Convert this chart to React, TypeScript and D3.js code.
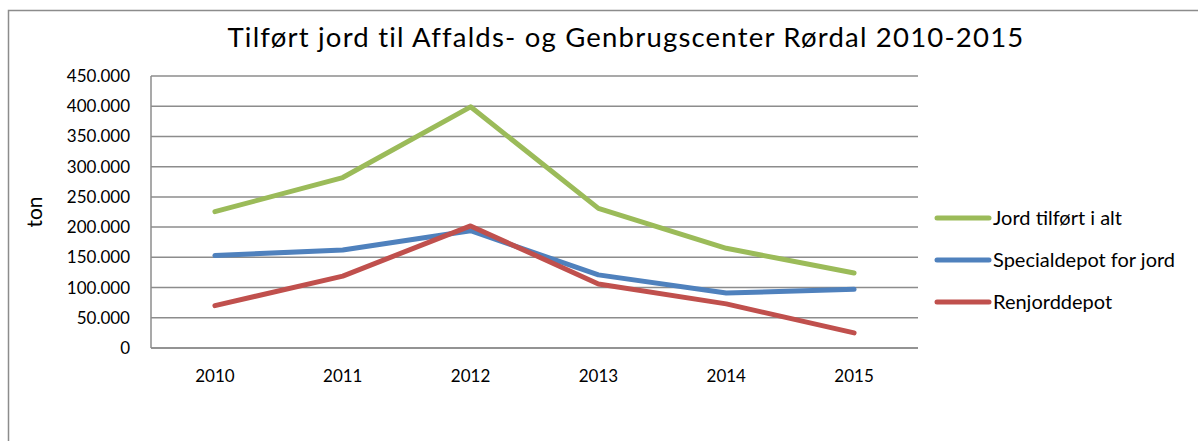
import React, { useEffect, useRef } from 'react';
import * as d3 from 'd3';

// Data
const years = ['2010', '2011', '2012', '2013', '2014', '2015'];
const jordTilfoert = [225500, 282000, 399000, 231000, 165000, 124000];
const specialdepot = [153000, 162000, 194000, 121000, 91000, 97000];
const renjorddepot = [70000, 119000, 202000, 106000, 73000, 25000];
const yTicks = [0, 50000, 100000, 150000, 200000, 250000, 300000, 350000, 400000, 450000];
const seriesNames = ['Jord tilført i alt', 'Specialdepot for jord', 'Renjorddepot'];
const seriesColors = ['#9bbb59', '#4f81bd', '#c0504d'];

const FONT = 'Lato, "Open Sans", sans-serif';

function App() {
  const svgRef = useRef<SVGSVGElement>(null);

  useEffect(() => {
    const width = 1198;
    const height = 441;
    const margin = { top: 76, left: 151 };
    const innerWidth = 918 - margin.left;
    const innerHeight = 348 - margin.top;

    const svg = d3.select(svgRef.current)
      .attr('width', width)
      .attr('height', height);

    svg.selectAll('*').remove();

    // Outer chart frame
    svg.append('rect')
      .attr('x', 8.5)
      .attr('y', 10.5)
      .attr('width', 1250)
      .attr('height', 500)
      .attr('fill', 'white')
      .attr('stroke', '#8c8c8c')
      .attr('stroke-width', 1.5);

    // Title
    svg.append('text')
      .attr('x', 626)
      .attr('y', 47)
      .attr('text-anchor', 'middle')
      .attr('font-family', FONT)
      .attr('font-size', '27.5px')
      .attr('letter-spacing', '1.2px')
      .attr('fill', '#000')
      .text('Tilført jord til Affalds- og Genbrugscenter Rørdal 2010-2015');

    const g = svg.append('g')
      .attr('transform', `translate(${margin.left},${margin.top})`);

    const xScale = d3.scaleBand()
      .domain(years)
      .range([0, innerWidth]);

    const yScale = d3.scaleLinear()
      .domain([0, 450000])
      .range([innerHeight, 0]);

    // Grid lines
    g.selectAll('line.grid')
      .data(yTicks)
      .enter()
      .append('line')
      .attr('class', 'grid')
      .attr('x1', 0)
      .attr('x2', innerWidth)
      .attr('y1', d => yScale(d))
      .attr('y2', d => yScale(d))
      .attr('stroke', '#8c8c8c')
      .attr('stroke-width', 1.5);

    // Axis lines
    g.append('line')
      .attr('x1', 0).attr('x2', 0)
      .attr('y1', 0).attr('y2', innerHeight)
      .attr('stroke', '#8c8c8c')
      .attr('stroke-width', 1.5);
    g.append('line')
      .attr('x1', 0).attr('x2', innerWidth)
      .attr('y1', innerHeight).attr('y2', innerHeight)
      .attr('stroke', '#8c8c8c')
      .attr('stroke-width', 1.5);

    // Y tick labels
    const fmt = (d: number) => d === 0 ? '0' : d3.format(',')(d).replace(/,/g, '.');
    g.selectAll('text.ytick')
      .data(yTicks)
      .enter()
      .append('text')
      .attr('class', 'ytick')
      .attr('x', -21)
      .attr('y', d => yScale(d))
      .attr('dy', '0.35em')
      .attr('text-anchor', 'end')
      .attr('font-family', FONT)
      .attr('font-size', '17px')
      .text(d => fmt(d));

    // X tick labels
    g.selectAll('text.xtick')
      .data(years)
      .enter()
      .append('text')
      .attr('class', 'xtick')
      .attr('x', d => (xScale(d) as number) + xScale.bandwidth() / 2)
      .attr('y', innerHeight + 28)
      .attr('dy', '0.35em')
      .attr('text-anchor', 'middle')
      .attr('font-family', FONT)
      .attr('font-size', '17px')
      .text(d => d);

    // Y axis label
    svg.append('text')
      .attr('transform', 'translate(35,212) rotate(-90)')
      .attr('text-anchor', 'middle')
      .attr('dy', '0.35em')
      .attr('font-family', FONT)
      .attr('font-size', '21px')
      .text('ton');

    // Lines
    const allSeries = [jordTilfoert, specialdepot, renjorddepot];
    const line = d3.line<number>()
      .x((_, i) => (xScale(years[i]) as number) + xScale.bandwidth() / 2)
      .y(d => yScale(d));

    allSeries.forEach((s, i) => {
      g.append('path')
        .datum(s)
        .attr('d', line)
        .attr('fill', 'none')
        .attr('stroke', seriesColors[i])
        .attr('stroke-width', 5)
        .attr('stroke-linecap', 'round')
        .attr('stroke-linejoin', 'round');
    });

    // Legend
    const legend = svg.append('g')
      .attr('transform', 'translate(937,218)');
    seriesNames.forEach((name, i) => {
      const row = legend.append('g').attr('transform', `translate(0,${i * 42})`);
      row.append('line')
        .attr('x1', 0).attr('x2', 52)
        .attr('y1', 0).attr('y2', 0)
        .attr('stroke', seriesColors[i])
        .attr('stroke-width', 5)
        .attr('stroke-linecap', 'round');
      row.append('text')
        .attr('x', 56)
        .attr('y', 0)
        .attr('dy', '0.35em')
        .attr('font-family', FONT)
        .attr('font-size', '20px')
        .text(name);
    });
  }, []);

  return (
    <div style={{ position: 'absolute', left: 0, top: 0 }}>
      <svg ref={svgRef}></svg>
    </div>
  );
}

export default App;
